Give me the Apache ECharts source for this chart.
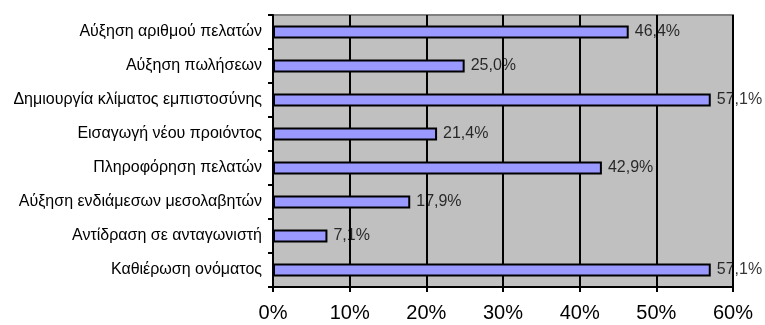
<!DOCTYPE html>
<html>
<head>
<meta charset="utf-8">
<script src="https://cdn.jsdelivr.net/npm/echarts@6/dist/echarts.min.js"></script>
<style>
  html, body { margin: 0; padding: 0; background: #ffffff; }
  #chart { width: 765px; height: 325px; }
</style>
</head>
<body>
<div id="chart"></div>
<script>
// Categories listed top to bottom
const categories = [
  'Αύξηση αριθμού πελατών',
  'Αύξηση πωλήσεων',
  'Δημιουργία κλίματος εμπιστοσύνης',
  'Εισαγωγή νέου προιόντος',
  'Πληροφόρηση πελατών',
  'Αύξηση ενδιάμεσων μεσολαβητών',
  'Αντίδραση σε ανταγωνιστή',
  'Καθιέρωση ονόματος'
];
const shares = [46.4, 25.0, 57.1, 21.4, 42.9, 17.9, 7.1, 57.1];
const tickValues = [0, 10, 20, 30, 40, 50, 60];

const fmt = v => v.toFixed(1).replace('.', ',') + '%';

const chart = echarts.init(document.getElementById('chart'), null, { renderer: 'canvas' });
chart.setOption({
  animation: false,
  textStyle: { fontFamily: 'Liberation Sans, Arial, sans-serif' },
  grid: {
    left: 273, right: 32, top: 15, bottom: 38,
    show: true,
    backgroundColor: '#C0C0C0',
    borderColor: '#808080',
    borderWidth: 2
  },
  xAxis: {
    type: 'value',
    z: 3,
    min: tickValues[0],
    max: tickValues[tickValues.length - 1],
    interval: 10,
    axisLine: { show: true, lineStyle: { color: '#000', width: 2 } },
    axisTick: { show: true, length: 5, lineStyle: { color: '#000', width: 2 } },
    splitLine: { show: true, lineStyle: { color: '#000', width: 2 } },
    axisLabel: {
      formatter: v => v + '%',
      color: '#000',
      fontSize: 20,
      margin: 16
    }
  },
  yAxis: {
    type: 'category',
    z: 3,
    inverse: true,
    data: categories,
    axisLine: { show: true, lineStyle: { color: '#000', width: 2 } },
    axisTick: { show: true, length: 5, alignWithLabel: false, lineStyle: { color: '#000', width: 2 } },
    axisLabel: { color: '#000', fontSize: 16, margin: 11 },
    splitLine: { show: false }
  },
  series: [
    {
      // value labels sit beneath the gridlines
      type: 'scatter',
      z: 1,
      data: shares,
      symbolSize: 0,
      silent: true,
      label: {
        show: true,
        position: 'right',
        distance: 6,
        color: '#000',
        fontSize: 16,
        formatter: p => fmt(p.value)
      }
    },
    {
      type: 'bar',
      z: 4,
      data: shares,
      barWidth: 13,
      itemStyle: { color: '#9999FF', borderColor: '#000', borderWidth: 2 }
    }
  ]
});
</script>
</body>
</html>
